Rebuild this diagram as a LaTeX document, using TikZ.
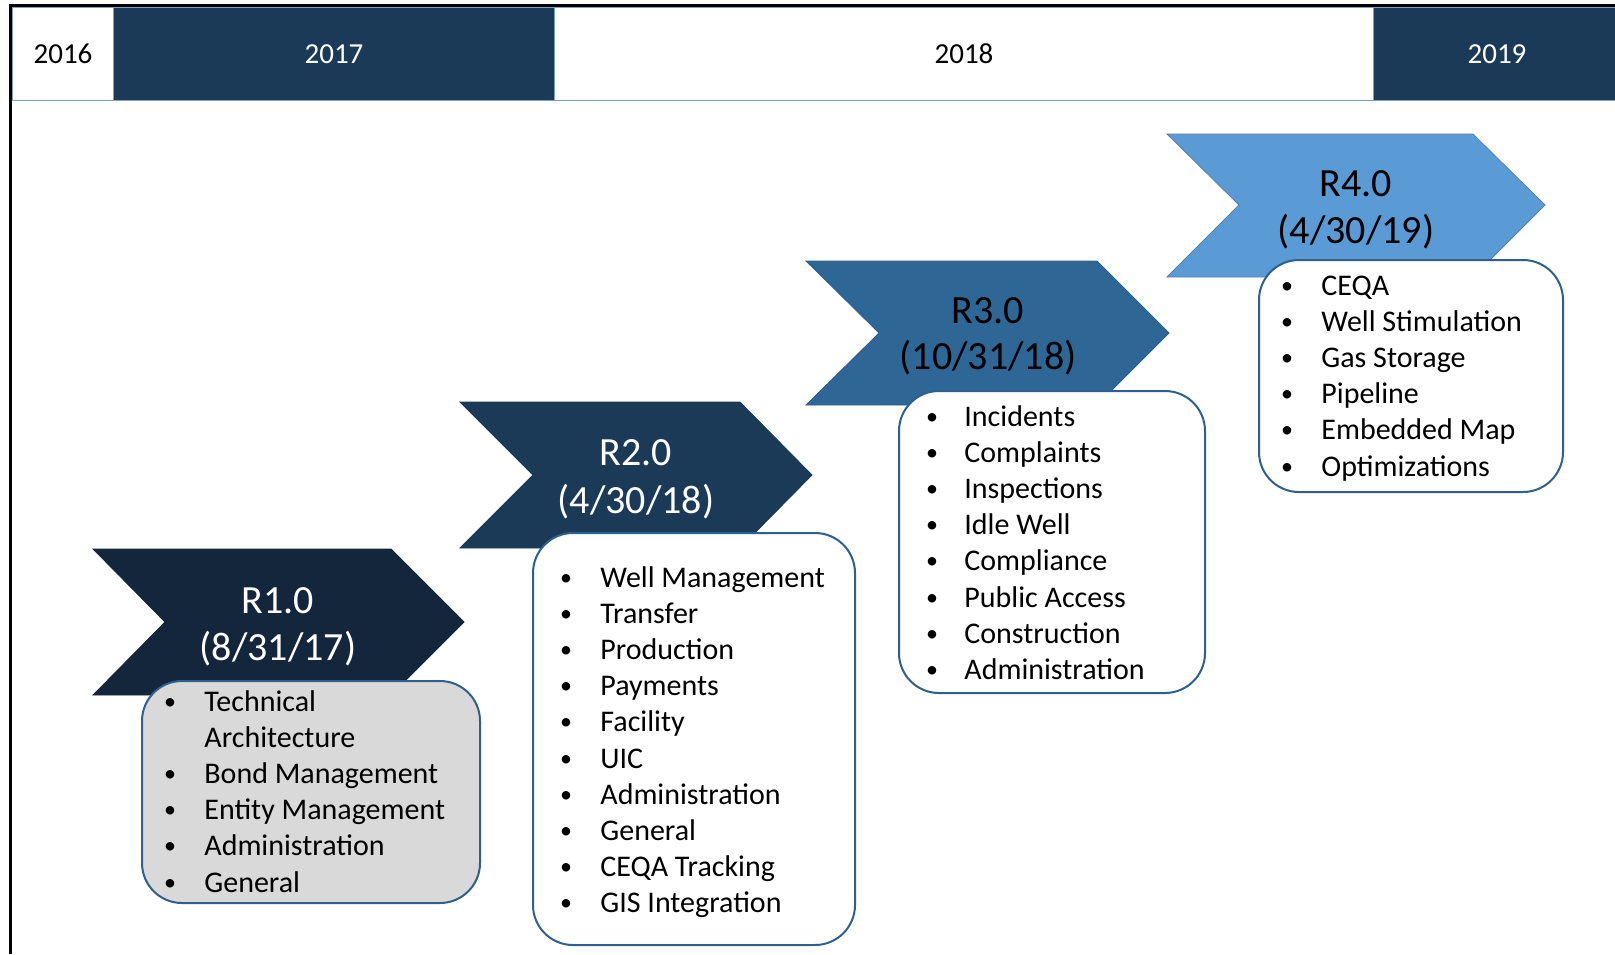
\documentclass[tikz,border=0pt]{standalone}
\usepackage{fontspec}
\setmainfont{Carlito}
\usepackage{xcolor}
\definecolor{barnavy}{HTML}{1B3A57}
\definecolor{darknavy}{HTML}{14263B}
\definecolor{midblue}{HTML}{2E6696}
\definecolor{lightblue}{HTML}{5B9BD5}
\definecolor{boxline}{HTML}{2F5F8F}
\definecolor{boxgray}{HTML}{D9D9D9}

\begin{document}
\begin{tikzpicture}[x=0.5pt, y=-0.5pt,
    year/.style={font=\fontsize{14.5}{17}\selectfont},
    title/.style={font=\fontsize{20}{24}\selectfont},
    entry/.style={anchor=base west, inner sep=0pt, font=\fontsize{15}{18}\selectfont},
    dot/.style={anchor=base, inner sep=0pt, font=\fontsize{12}{14}\selectfont},
    listbox/.style={draw=boxline, line width=1pt, rounded corners=20pt}]
    \useasboundingbox (0,0) rectangle (1615,954);

    % years
    \filldraw[fill=white, draw=boxline!60, line width=0.5pt] (12,7) rectangle (113,100);
    \filldraw[fill=barnavy, draw=boxline!60, line width=0.5pt] (113,7) rectangle (554,100);
    \filldraw[fill=white, draw=boxline!60, line width=0.5pt] (554,7) rectangle (1373,100);
    \filldraw[fill=barnavy, draw=boxline!60, line width=0.5pt] (1373,7) rectangle (1615,100);
    \node[year] (y2016) at (63,54) {2016};
    \node[year, text=white] (y2017) at (334,54) {2017};
    \node[year] (y2018) at (964,54) {2018};
    \node[year, text=white] (y2019) at (1497,54) {2019};
    \draw[black, line width=1.5pt] (10,954) -- (10,5) -- (1615,5);

    % releases
    \filldraw[fill=darknavy, draw=darknavy] (93,549) -- (391,549) -- (464,622) -- (391,695) -- (93,695) -- (165,622) -- cycle;
    \filldraw[fill=barnavy, draw=barnavy] (460,402) -- (740,402) -- (812,475) -- (740,548) -- (460,548) -- (533,475) -- cycle;
    \filldraw[fill=midblue, draw=boxline] (806,261) -- (1097,261) -- (1169,333) -- (1097,405) -- (806,405) -- (879,333) -- cycle;
    \filldraw[fill=lightblue, draw=boxline!80] (1167,134) -- (1473,134) -- (1545,205) -- (1473,277) -- (1167,277) -- (1239,205) -- cycle;
    \node[title, text=white] (r1) at (278,601) {R1.0};
    \node[title, text=white] (r1date) at (278,649) {(8/31/17)};
    \node[title, text=white] (r2) at (636,453) {R2.0};
    \node[title, text=white] (r2date) at (636,502) {(4/30/18)};
    \node[title] (r3) at (988,311) {R3.0};
    \node[title] (r3date) at (988,358) {(10/31/18)};
    \node[title] (r4) at (1356,184) {R4.0};
    \node[title] (r4date) at (1356,232) {(4/30/19)};

    % feature lists
    \filldraw[listbox, fill=boxgray] (142,681) rectangle (480,903);
    \filldraw[listbox, fill=white] (533,533) rectangle (855,945);
    \filldraw[listbox, fill=white] (899,391) rectangle (1205,693);
    \filldraw[listbox, fill=white] (1259,260) rectangle (1563,492);
    \foreach \t [count=\i] in {Technical, Architecture, Bond Management, Entity Management, Administration, General} {
        \ifnum\i=2\else\node[dot] (r1b\i) at (170,{709+36.2*(\i-1)}) {•};\fi
        \node[entry] (r1i\i) at (204,{711+36.2*(\i-1)}) {\t};
    }
    \foreach \t [count=\i] in {Well Management, Transfer, Production, Payments, Facility, UIC, Administration, General, CEQA Tracking, GIS Integration} {
        \node[dot] (r2b\i) at (566,{585+36.2*(\i-1)}) {•};
        \node[entry] (r2i\i) at (600,{587+36.2*(\i-1)}) {\t};
    }
    \foreach \t [count=\i] in {Incidents, Complaints, Inspections, Idle Well, Compliance, Public Access, Construction, Administration} {
        \node[dot] (r3b\i) at (932,{424+36.2*(\i-1)}) {•};
        \node[entry] (r3i\i) at (964,{426+36.2*(\i-1)}) {\t};
    }
    \foreach \t [count=\i] in {CEQA, Well Stimulation, Gas Storage, Pipeline, Embedded Map, Optimizations} {
        \node[dot] (r4b\i) at (1287,{293+36.2*(\i-1)}) {•};
        \node[entry] (r4i\i) at (1321,{295+36.2*(\i-1)}) {\t};
    }
\end{tikzpicture}
\end{document}
